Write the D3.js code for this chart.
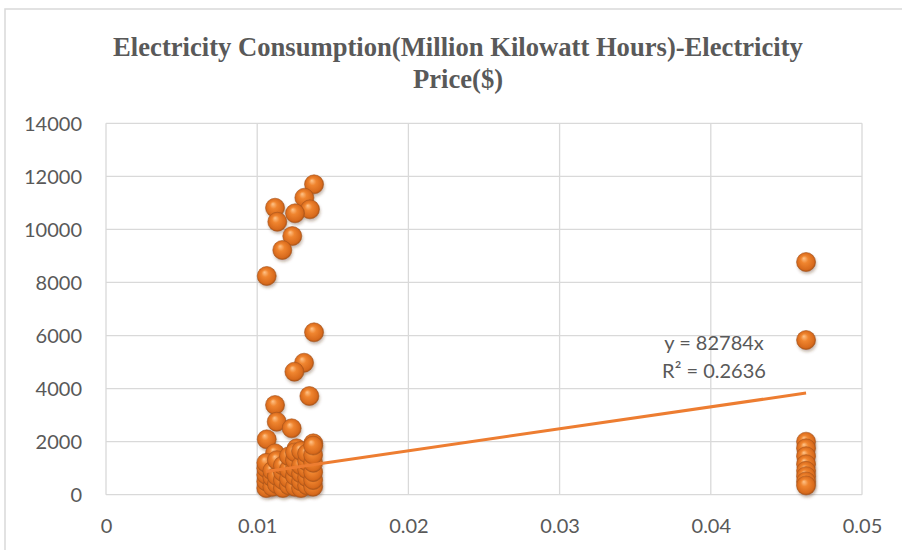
<!DOCTYPE html>
<html><head><meta charset="utf-8">
<script src="https://cdn.jsdelivr.net/npm/d3@7"></script>
<style>body{margin:0;background:#fff} svg{display:block}</style>
</head><body>
<script>
const titleLines = ["Electricity Consumption(Million Kilowatt Hours)-Electricity", "Price($)"];
const xTicks = [0, 0.01, 0.02, 0.03, 0.04, 0.05];
const yTicks = [0, 2000, 4000, 6000, 8000, 10000, 12000, 14000];
const xValues = [
  0.01376, 0.01312, 0.01349, 0.01118, 0.0125, 0.01133, 0.01232, 0.01166, 0.01063,
  0.01376, 0.0131, 0.01246, 0.01345, 0.01118, 0.01129, 0.01228, 0.01063, 0.01118, 0.01371, 0.01261,
  0.0106, 0.0106, 0.0106, 0.0106, 0.0106,
  0.0110, 0.0110, 0.0110,
  0.0113, 0.0113, 0.0113,
  0.0117, 0.0117, 0.0117, 0.0117,
  0.0121, 0.0121, 0.0121, 0.0121,
  0.0125, 0.0125, 0.0125, 0.0125, 0.0125,
  0.0129, 0.0129, 0.0129, 0.0129, 0.0129,
  0.0133, 0.0133, 0.0133, 0.0133, 0.0133,
  0.0137, 0.0137, 0.0137, 0.0137, 0.0137, 0.0137,
  0.0463, 0.0463, 0.0463, 0.0463, 0.0463, 0.0463, 0.0463, 0.0463, 0.0463, 0.0463
];
const yValues = [
  11700, 11195, 10757, 10818, 10607, 10290, 9751, 9224, 8244,
  6121, 4976, 4637, 3720, 3381, 2752, 2503, 2088, 1560, 1937, 1749,
  250, 500, 750, 1000, 1200,
  300, 650, 900,
  400, 700, 1300,
  250, 550, 850, 1100,
  350, 600, 950, 1450,
  300, 700, 1000, 1300, 1600,
  250, 500, 800, 1100, 1650,
  350, 650, 950, 1250, 1550,
  300, 550, 850, 1200, 1500, 1850,
  8771, 5831, 2000, 1750, 1450, 1150, 900, 700, 500, 350
];
const trendSlope = 82784;
const equationLabels = ["y = 82784x", "R² = 0.2636"];

const W = 902, H = 550;
const svg = d3.select("body").append("svg").attr("width", W).attr("height", H);

svg.append("rect").attr("x", 5).attr("y", 9).attr("width", W + 10).attr("height", H + 10)
  .attr("fill", "#fff").attr("stroke", "#d9d9d9").attr("stroke-width", 1.5);

const defs = svg.append("defs");
const grad = defs.append("radialGradient").attr("id", "ball")
  .attr("cx", "0.5").attr("cy", "0.5").attr("r", "0.55").attr("fx", "0.38").attr("fy", "0.3");
grad.append("stop").attr("offset", "0").attr("stop-color", "#ffc48a");
grad.append("stop").attr("offset", "0.35").attr("stop-color", "#f0852f");
grad.append("stop").attr("offset", "0.8").attr("stop-color", "#d86a1c");
grad.append("stop").attr("offset", "1").attr("stop-color", "#9a4a12");
const sh = defs.append("filter").attr("id", "shadow").attr("x", "-50%").attr("y", "-50%").attr("width", "200%").attr("height", "200%");
sh.append("feGaussianBlur").attr("stdDeviation", 1.5);

const x = d3.scaleLinear().domain([0, 0.05]).range([106, 862]);
const y = d3.scaleLinear().domain([0, 14000]).range([494.7, 123.3]);

const title = svg.append("g").attr("font-family", "'Liberation Serif', serif").attr("font-weight", "bold")
  .attr("font-size", 28).attr("fill", "#595959").attr("text-anchor", "middle");
const t1 = title.append("text").attr("x", 458).attr("y", 56).text(titleLines[0]);
const t2 = title.append("text").attr("x", 458).attr("y", 88).text(titleLines[1]);
const ratio = 690 / t1.node().getComputedTextLength();
[t1, t2].forEach(t => t.attr("transform", `translate(458,0) scale(${ratio},1) translate(-458,0)`));

const grid = svg.append("g").attr("stroke", "#d9d9d9").attr("stroke-width", 1.3);
grid.selectAll(".gx").data(xTicks).join("line")
  .attr("x1", d => x(d)).attr("x2", d => x(d)).attr("y1", y(0)).attr("y2", y(14000));
grid.selectAll(".gy").data(yTicks).join("line")
  .attr("y1", d => y(d)).attr("y2", d => y(d)).attr("x1", x(0)).attr("x2", x(0.05));

const xAxis = svg.append("g").attr("transform", `translate(0,${y(0)})`)
  .call(d3.axisBottom(x).tickValues(xTicks).tickSize(0).tickPadding(0)
    .tickFormat(d => d === 0 ? "0" : d3.format(".2f")(d)));
xAxis.select(".domain").remove();
xAxis.selectAll("text").attr("dy", null).attr("y", 38)
  .attr("font-family", "Lato, sans-serif").attr("font-size", 20).attr("fill", "#595959");

const yAxis = svg.append("g").attr("transform", `translate(${x(0)},0)`)
  .call(d3.axisLeft(y).tickValues(yTicks).tickSize(0).tickPadding(0).tickFormat(d3.format("d")));
yAxis.select(".domain").remove();
yAxis.selectAll("text").attr("x", -24).attr("dy", "0.35em")
  .attr("font-family", "Lato, sans-serif").attr("font-size", 20).attr("fill", "#595959");

const data = xValues.map((v, i) => ({ x: v, y: yValues[i] }));
const pts = svg.append("g");
pts.selectAll(".s").data(data).join("circle")
  .attr("cx", d => x(d.x) + 1).attr("cy", d => y(d.y) + 2.5).attr("r", 9.5)
  .attr("fill", "rgba(90,50,20,0.35)").attr("filter", "url(#shadow)");
pts.selectAll(".b").data(data).join("circle")
  .attr("cx", d => x(d.x)).attr("cy", d => y(d.y)).attr("r", 9.5)
  .attr("fill", "url(#ball)").attr("stroke", "#a9561c").attr("stroke-width", 0.6);

const xmin = d3.min(xValues), xmax = d3.max(xValues);
svg.append("line")
  .attr("x1", x(xmin)).attr("y1", y(trendSlope * xmin))
  .attr("x2", x(xmax)).attr("y2", y(trendSlope * xmax))
  .attr("stroke", "#ED7D31").attr("stroke-width", 3);

svg.append("g").attr("font-family", "Lato, sans-serif").attr("font-size", 20).attr("fill", "#595959")
  .attr("text-anchor", "middle")
  .selectAll("text").data(equationLabels).join("text")
  .attr("x", 714).attr("y", (d, i) => 350 + i * 28).text(d => d);
</script>
</body></html>
